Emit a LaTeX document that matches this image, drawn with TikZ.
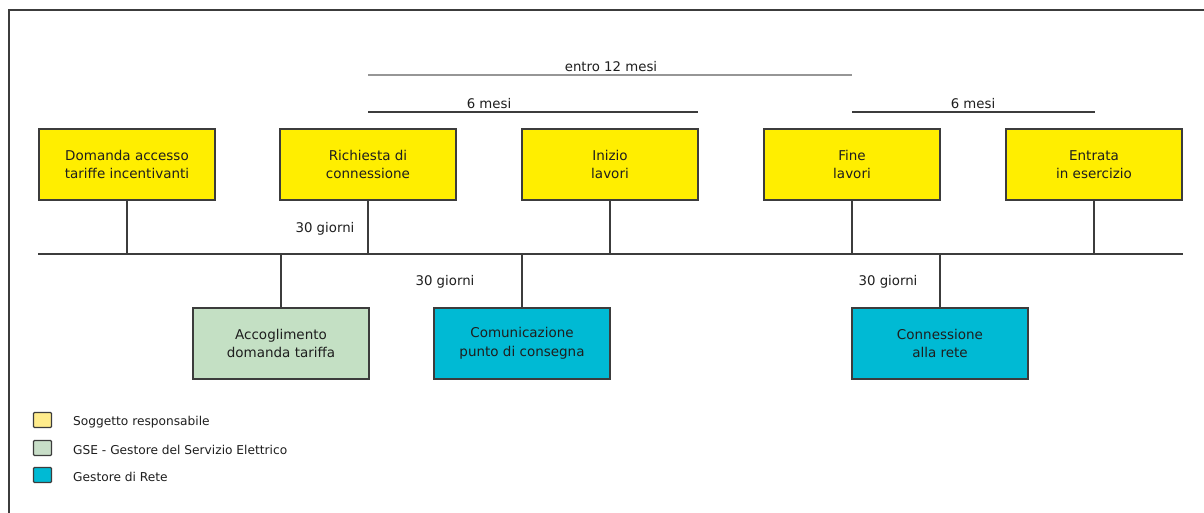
\documentclass[tikz,border=0pt]{standalone}
\usepackage{fontspec}
\setmainfont{DejaVu Sans}
\definecolor{boxyellow}{RGB}{255,238,0}
\definecolor{boxgreen}{RGB}{196,224,196}
\definecolor{boxcyan}{RGB}{0,186,212}
\definecolor{legyellow}{RGB}{255,236,140}
\definecolor{leggreen}{RGB}{200,222,200}
\definecolor{linegray}{RGB}{60,60,60}
\definecolor{lightline}{RGB}{150,150,150}
\definecolor{txt}{RGB}{30,30,30}
\begin{document}
\begin{tikzpicture}[x=1pt,y=-1pt,
  stage/.style={draw=linegray,line width=1.5pt,minimum width=176pt,minimum height=71pt,
    align=center,font=\fontsize{13.5}{18.5}\selectfont,text=txt,inner sep=0pt},
  yel/.style={stage,fill=boxyellow},
  grn/.style={stage,fill=boxgreen},
  cya/.style={stage,fill=boxcyan},
  conn/.style={draw=linegray,line width=1.5pt},
  lbl/.style={font=\fontsize{13.3}{15}\selectfont,text=txt,inner sep=1pt},
  legbox/.style={draw=linegray,line width=1.3pt,minimum width=18pt,minimum height=15pt,inner sep=0pt,rounded corners=1pt},
  legtxt/.style={font=\fontsize{12.2}{14}\selectfont,text=txt,anchor=west,inner sep=0pt}]
\useasboundingbox (0,0) rectangle (1204,513);
\fill[white] (0,0) rectangle (1204,513);
% frame (partially visible)
\draw[line width=1.5pt,linegray] (9,513) -- (9,10) -- (1204,10);
% top boxes
\node[yel] (d) at (127,164.5) {Domanda accesso\\tariffe incentivanti};
\node[yel] (r) at (368,164.5) {Richiesta di\\connessione};
\node[yel] (i) at (610,164.5) {Inizio\\lavori};
\node[yel] (f) at (852,164.5) {Fine\\lavori};
\node[yel] (e) at (1094,164.5) {Entrata\\in esercizio};
% bottom boxes
\node[grn] (a) at (281,343.5) {Accoglimento\\domanda tariffa};
\node[cya] (c) at (522,343.5) {Comunicazione\\punto di consegna};
\node[cya] (k) at (940,343.5) {Connessione\\alla rete};
% timeline
\coordinate (tl) at (38,254);
\coordinate (tr) at (1183,254);
\draw[conn] (tl) -- (tr);
\foreach \n in {d,r,i,f,e}{\draw[conn] (\n.south) -- (\n.south |- tl);}
\foreach \n in {a,c,k}{\draw[conn] (\n.north) -- (\n.north |- tl);}
% duration bars
\coordinate (m12a) at (368,75); \coordinate (m12b) at (852,75);
\draw[lightline,line width=1.8pt] (m12a) -- (m12b);
\node[lbl,anchor=south] (m12) at (611,73) {entro 12 mesi};
\coordinate (m6a) at (368,112); \coordinate (m6b) at (698,112);
\draw[conn] (m6a) -- (m6b);
\node[lbl,anchor=south] (m6) at (489,110) {6 mesi};
\coordinate (m6c) at (852,112); \coordinate (m6d) at (1095,112);
\draw[conn] (m6c) -- (m6d);
\node[lbl,anchor=south] (m6x) at (973,110) {6 mesi};
% 30 giorni labels
\node[lbl] (g1) at (325,229) {30 giorni};
\node[lbl] (g2) at (445,282) {30 giorni};
\node[lbl] (g3) at (888,282) {30 giorni};
% legend
\node[legbox,fill=legyellow] (l1) at (42.5,420) {};
\node[legbox,fill=leggreen] (l2) at (42.5,448) {};
\node[legbox,fill=boxcyan] (l3) at (42.5,475) {};
\node[legtxt] (t1) at (73,422) {Soggetto responsabile};
\node[legtxt] (t2) at (73,450) {GSE - Gestore del Servizio Elettrico};
\node[legtxt] (t3) at (73,477) {Gestore di Rete};
\end{tikzpicture}
\end{document}
